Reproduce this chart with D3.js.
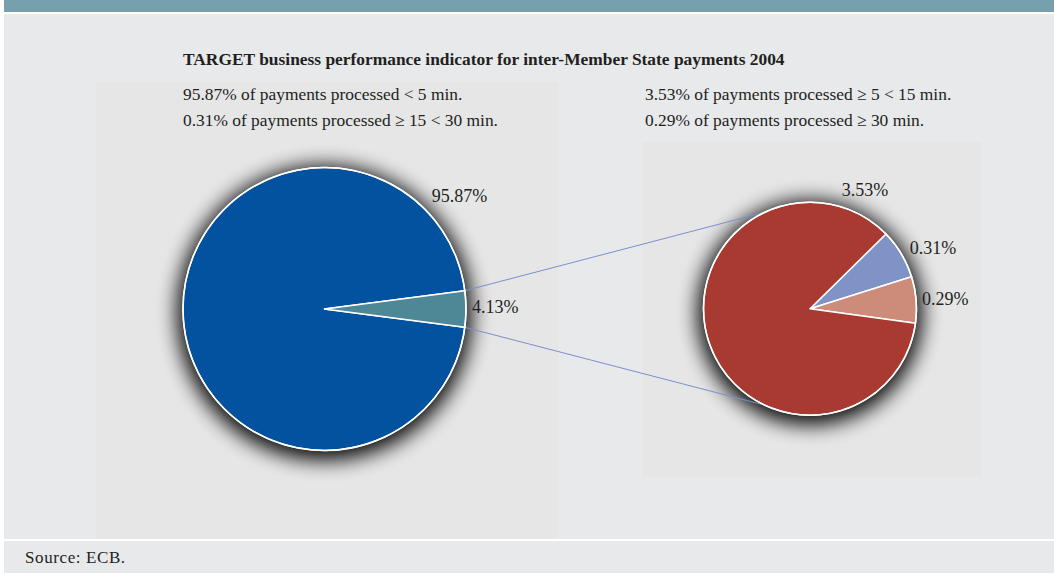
<!DOCTYPE html>
<html>
<head>
<meta charset="utf-8">
<script src="https://cdn.jsdelivr.net/npm/d3@7"></script>
<style>
body { margin: 0; background: #fff; }
text { font-family: "Liberation Serif", "Times New Roman", serif; fill: #231f20; }
</style>
</head>
<body>
<div id="chart"></div>
<script>
var title = "TARGET business performance indicator for inter-Member State payments 2004";
var notesLeft = ["95.87% of payments processed < 5 min.", "0.31% of payments processed \u2265 15 < 30 min."];
var notesRight = ["3.53% of payments processed \u2265 5 < 15 min.", "0.29% of payments processed \u2265 30 min."];
var mainCats = ["< 5 min", "\u2265 5 min"];
var mainValues = [95.87, 4.13];
var subCats = ["\u2265 15 < 30 min", "\u2265 30 min", "\u2265 5 < 15 min"];
var subValues = [0.31, 0.29, 3.53];
var source = "Source: ECB.";

var width = 1054, height = 573;

var svg = d3.select("#chart").append("svg")
    .attr("width", width)
    .attr("height", height);

// shadow filter
var defs = svg.append("defs");
var f = defs.append("filter").attr("id", "shade")
    .attr("x", "-40%").attr("y", "-40%").attr("width", "180%").attr("height", "180%");
f.append("feGaussianBlur").attr("stdDeviation", 10);

// background bits
svg.append("rect").attr("x", 4).attr("y", 0).attr("width", width - 4).attr("height", height).attr("fill", "#e8e9eb");
svg.append("rect").attr("x", 4).attr("y", 0).attr("width", width - 4).attr("height", 12).attr("fill", "#76a0ae");
svg.append("rect").attr("x", 4).attr("y", 12).attr("width", width - 4).attr("height", 2).attr("fill", "#fff");
svg.append("rect").attr("x", 96).attr("y", 82).attr("width", 462).attr("height", 457).attr("fill", "#e6e6e7");
svg.append("rect").attr("x", 643).attr("y", 142).attr("width", 338).attr("height", 335).attr("fill", "#e6e6e7");
svg.append("rect").attr("x", 4).attr("y", 539).attr("width", width - 4).attr("height", 2).attr("fill", "#fff");

// texts
svg.append("text").attr("x", 183).attr("y", 65)
    .style("font-weight", "bold").style("font-size", "17.4px")
    .text(title);

svg.selectAll(".noteL").data(notesLeft).enter().append("text")
    .attr("x", 183).attr("y", function(d, i) { return 100 + i * 26; })
    .style("font-size", "17.4px").text(function(d) { return d; });
svg.selectAll(".noteR").data(notesRight).enter().append("text")
    .attr("x", 645).attr("y", function(d, i) { return 100 + i * 26; })
    .style("font-size", "17.4px").text(function(d) { return d; });

svg.append("text").attr("x", 25).attr("y", 563)
    .style("font-size", "17px").style("letter-spacing", "0.6px").text(source);

// pies
var main = { cx: 324.5, cy: 309, r: 141.5 };
var sub = { cx: 810, cy: 308.7, r: 106.5 };

var total = d3.sum(mainValues);
var smallAng = mainValues[1] / total * 2 * Math.PI;
var mainStart = Math.PI / 2 + smallAng / 2;

var mainPie = d3.pie().sort(null).value(function(d) { return d; })
    .startAngle(mainStart).endAngle(mainStart + 2 * Math.PI);
var subStart = 45.5 * Math.PI / 180;
var subPie = d3.pie().sort(null).value(function(d) { return d; })
    .startAngle(subStart).endAngle(subStart + 2 * Math.PI);

var mainColor = d3.scaleOrdinal().domain(mainCats).range(["#02529f", "#4e8796"]);
var subColor = d3.scaleOrdinal().domain(subCats).range(["#7f93c6", "#cd8b7a", "#a83a32"]);

function polar(p, a, r) {
    return [p.cx + r * Math.sin(a), p.cy - r * Math.cos(a)];
}

// shadows
[main, sub].forEach(function(p) {
    svg.append("circle")
        .attr("cx", p.cx).attr("cy", p.cy + 4).attr("r", p.r + 6)
        .attr("fill", "#000").attr("opacity", 0.95)
        .attr("filter", "url(#shade)");
});

// connector lines
var a1 = polar(main, Math.PI / 2 - smallAng / 2, main.r),
    a2 = polar(main, Math.PI / 2 + smallAng / 2, main.r),
    b1 = polar(sub, 335 * Math.PI / 180, sub.r),
    b2 = polar(sub, 205 * Math.PI / 180, sub.r);
svg.append("line").attr("x1", a1[0]).attr("y1", a1[1]).attr("x2", b1[0]).attr("y2", b1[1])
    .attr("stroke", "#7b8fd0").attr("stroke-width", 1);
svg.append("line").attr("x1", a2[0]).attr("y1", a2[1]).attr("x2", b2[0]).attr("y2", b2[1])
    .attr("stroke", "#7b8fd0").attr("stroke-width", 1);

var mainArc = d3.arc().innerRadius(0).outerRadius(main.r);
var subArc = d3.arc().innerRadius(0).outerRadius(sub.r);

var gMain = svg.append("g").attr("transform", "translate(" + main.cx + "," + main.cy + ")");
gMain.selectAll("path").data(mainPie(mainValues)).enter().append("path")
    .attr("d", mainArc)
    .attr("fill", function(d, i) { return mainColor(mainCats[i]); })
    .attr("stroke", "#fff").attr("stroke-width", 1.5).attr("stroke-linejoin", "round");
gMain.append("circle").attr("r", main.r).attr("fill", "none").attr("stroke", "#fff").attr("stroke-width", 1.5);

var gSub = svg.append("g").attr("transform", "translate(" + sub.cx + "," + sub.cy + ")");
var subArcs = subPie(subValues);
gSub.selectAll("path").data(subArcs).enter().append("path")
    .attr("d", subArc)
    .attr("fill", function(d, i) { return subColor(subCats[i]); })
    .attr("stroke", "#fff").attr("stroke-width", 1.5).attr("stroke-linejoin", "round");
gSub.append("circle").attr("r", sub.r).attr("fill", "none").attr("stroke", "#fff").attr("stroke-width", 1.5);

// labels
var fmt = function(v) { return v.toFixed(2) + "%"; };

var p = polar(main, Math.PI / 4, main.r + 10);
svg.append("text").attr("x", p[0]).attr("y", p[1])
    .style("font-size", "18px").text(fmt(mainValues[0]));
p = polar(main, Math.PI / 2, main.r + 6);
svg.append("text").attr("x", p[0]).attr("y", p[1]).attr("dy", "0.2em")
    .style("font-size", "18px").text(fmt(mainValues[1]));

subArcs.forEach(function(d, i) {
    var mid = (d.startAngle + d.endAngle) / 2, q;
    if (d.value > 1) {
        q = polar(sub, 15 * Math.PI / 180, sub.r + 16);
    } else {
        q = polar(sub, mid, sub.r + (i == 0 ? 10 : 6));
    }
    svg.append("text").attr("x", q[0]).attr("y", q[1]).attr("dy", "0.32em")
        .style("font-size", "18px").text(fmt(d.value));
});
</script>
</body>
</html>
